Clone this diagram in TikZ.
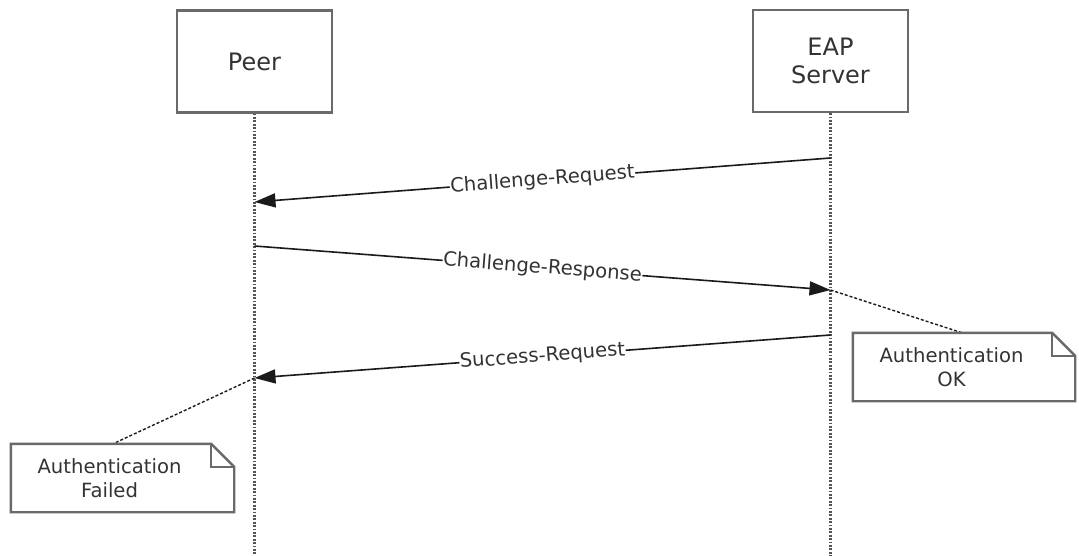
\documentclass[tikz,border=0pt]{standalone}
\usepackage{fontspec}
\setmainfont{DejaVu Sans}
\usetikzlibrary{arrows.meta}
\definecolor{boxgray}{HTML}{6A6A6A}
\definecolor{txt}{HTML}{333333}
\definecolor{lifegray}{HTML}{555555}
\definecolor{linecol}{HTML}{1A1A1A}
\begin{document}
\begin{tikzpicture}[x=1pt,y=-1pt,
  actor/.style={draw=boxgray,line width=2.4pt,fill=white,minimum width=155pt,minimum height=102pt,inner sep=0pt,font=\fontsize{24}{28}\selectfont,text=txt,align=center},
  lifeline/.style={draw=lifegray,line width=2.2pt,dash pattern=on 1.8pt off 1.6pt},
  msg/.style={draw=linecol,line width=1.6pt,-{Triangle[length=21pt,width=14pt]}},
  lbl/.style={fill=white,inner sep=0.5pt,sloped,text=txt,font=\fontsize{19.6}{23}\selectfont},
  notebox/.style={inner sep=0pt,minimum width=#1,minimum height=68pt},
  notetext/.style={text=txt,align=center,font=\fontsize{19.6}{23.5}\selectfont,inner sep=0pt},
  noteline/.style={draw=boxgray,line width=2.4pt,line join=miter,fill=white},
  notelink/.style={draw=linecol,line width=1.4pt,dash pattern=on 3pt off 2pt}]
\useasboundingbox (0,0) rectangle (1079,556);
% actors
\node[actor] (peer) at (254.5,61.5) {Peer};
\node[actor] (eap) at (830.5,61) {EAP\\Server};
\coordinate (peerend) at (254.5,556);
\coordinate (eapend) at (830.5,556);
\draw[lifeline] (peer.south) -- (peerend);
\draw[lifeline] (eap.south) -- (eapend);
% message end points on lifelines
\coordinate (m1s) at (830.5,158);
\coordinate (m1e) at (254.5,202);
\coordinate (m2s) at (254.5,246);
\coordinate (m2e) at (830.5,290);
\coordinate (m3s) at (830.5,335);
\coordinate (m3e) at (254.5,378);
% notes
\node[notebox=222pt] (okn) at (964,367) {};
\node[notebox=223pt] (failn) at (122.5,478) {};
\draw[notelink] (m2e) -- ([xshift=-2pt]okn.north);
\draw[notelink] (m3e) -- ([xshift=-9.5pt]failn.north);
\draw[noteline] (okn.north west) -- ([xshift=-23pt]okn.north east) -- ([yshift=-23pt]okn.north east) -- (okn.south east) -- (okn.south west) -- cycle;
\draw[noteline,fill=none] ([xshift=-23pt]okn.north east) -- ([xshift=-23pt,yshift=-23pt]okn.north east) -- ([yshift=-23pt]okn.north east);
\draw[noteline] (failn.north west) -- ([xshift=-23pt]failn.north east) -- ([yshift=-23pt]failn.north east) -- (failn.south east) -- (failn.south west) -- cycle;
\draw[noteline,fill=none] ([xshift=-23pt]failn.north east) -- ([xshift=-23pt,yshift=-23pt]failn.north east) -- ([yshift=-23pt]failn.north east);
\node[notetext] (okt) at (951.5,367) {Authentication\\OK};
\node[notetext] (failt) at (109.5,478) {Authentication\\Failed};
% messages
\draw[msg] (m1s) -- node[lbl] {Challenge-Request} (m1e);
\draw[msg] (m2s) -- node[lbl] {Challenge-Response} (m2e);
\draw[msg] (m3s) -- node[lbl] {Success-Request} (m3e);
\end{tikzpicture}
\end{document}
